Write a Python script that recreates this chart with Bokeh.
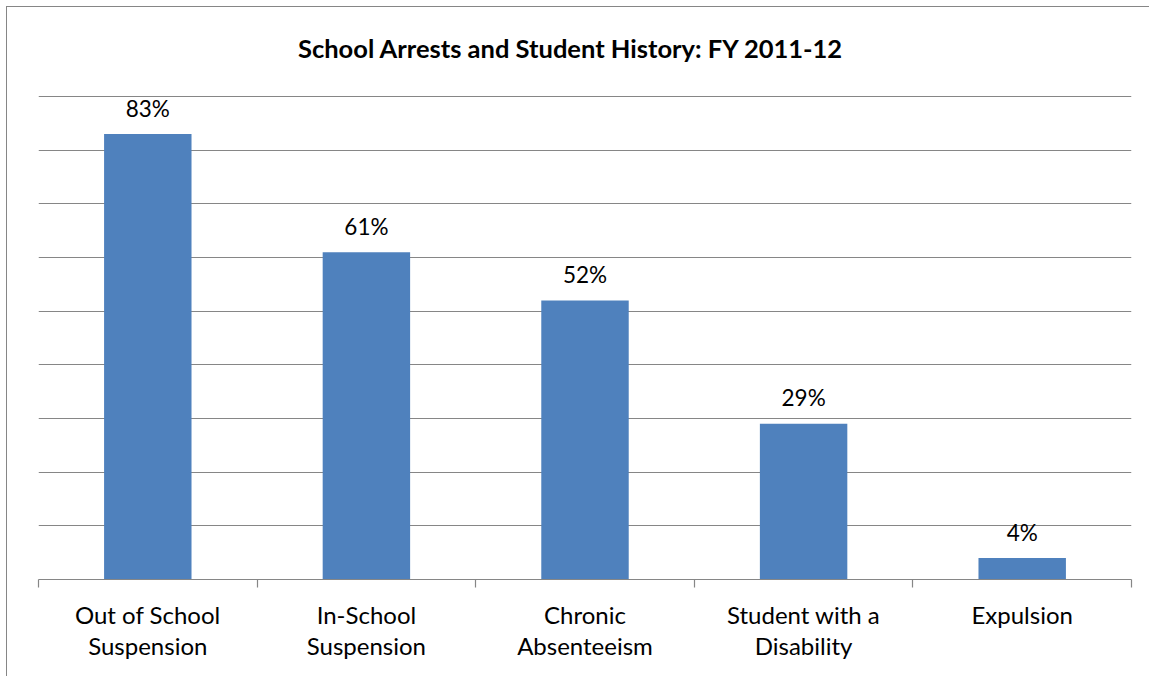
from bokeh.plotting import figure
from bokeh.models import FixedTicker, Range1d
from bokeh.embed import file_html
from bokeh.resources import INLINE
from bokeh.core.properties import value

title_text = "School Arrests and Student History: FY 2011-12"
categories = ["Out of School\nSuspension", "In-School\nSuspension", "Chronic\nAbsenteeism",
              "Student with a\nDisability", "Expulsion"]
percent = [83, 61, 52, 29, 4]
grid_ticks = [10, 20, 30, 40, 50, 60, 70, 80, 90]

FONT = "Lato"
GREY = "#868686"
BAR = "#4F81BD"

n = len(categories)
xs = [2 * i + 1 for i in range(n)]
bounds = [2 * i for i in range(n + 1)]
labels = [f"{v}%" for v in percent]

# layout: frame spans pixel rows 7..579; value 90 sits at row 96
FRAME_H = 572
PX_PER_UNIT = (579 - 96) / 90.0
y_end = FRAME_H / PX_PER_UNIT
title_y = (579 - 47) / PX_PER_UNIT

p = figure(width=1143, height=670, x_range=Range1d(0, 2 * n), y_range=Range1d(0, y_end),
           output_backend="svg", toolbar_location=None,
           min_border_left=31, min_border_right=19, min_border_top=0, min_border_bottom=98,
           margin=(6, 0, 0, 6))
p.styles = {"border-left": f"1px solid {GREY}", "border-top": f"1px solid {GREY}"}

p.outline_line_color = None
p.background_fill_color = "white"
p.border_fill_color = "white"

p.text(x=[n], y=[title_y], text=[title_text], text_align="center", text_baseline="middle",
       x_offset=-14, text_font=value(FONT), text_font_size="25.5px",
       text_font_style="bold", text_color="black")

p.vbar(x=xs, top=percent, width=0.8, color=BAR, line_color=None)
p.text(x=xs, y=percent, text=labels, text_align="center", text_baseline="alphabetic",
       y_offset=-26, text_font=value(FONT), text_font_size="22.5px", text_color="black")

p.yaxis.visible = False
p.ygrid.ticker = FixedTicker(ticks=grid_ticks)
p.ygrid.grid_line_color = GREY
p.ygrid.grid_line_width = 1.2
p.xgrid.visible = False

ax = p.xaxis[0]
ax.ticker = FixedTicker(ticks=xs, minor_ticks=bounds)
ax.major_label_overrides = {x: c for x, c in zip(xs, categories)}
ax.axis_line_color = GREY
ax.axis_line_width = 1.2
ax.major_tick_out = 0
ax.major_tick_in = 0
ax.minor_tick_out = 8
ax.minor_tick_in = 0
ax.minor_tick_line_color = GREY
ax.minor_tick_line_width = 1.2
ax.major_label_standoff = 12
ax.major_label_text_font = FONT
ax.major_label_text_font_size = "24px"
ax.major_label_text_color = "black"
ax.major_label_text_line_height = 1.1

open("out.html", "w").write(file_html(p, INLINE))
